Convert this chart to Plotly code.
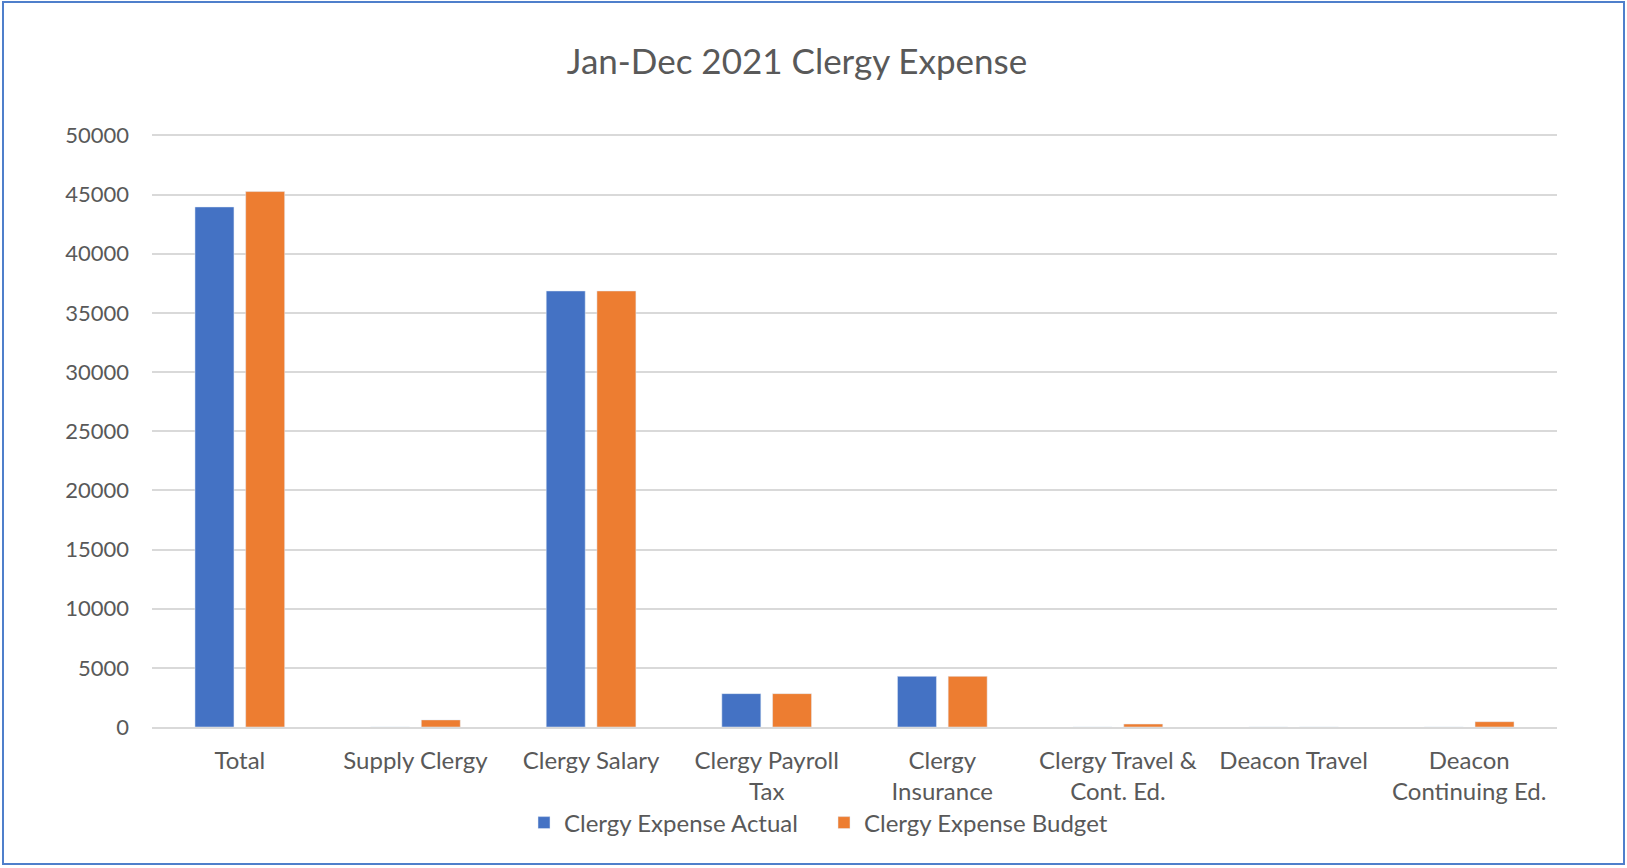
import plotly.graph_objects as go

# Expense categories and their axis labels (wrapped like the category axis)
categories = ["Total", "Supply Clergy", "Clergy Salary", "Clergy Payroll Tax",
              "Clergy Insurance", "Clergy Travel & Cont. Ed.", "Deacon Travel",
              "Deacon Continuing Ed."]
tick_labels = ["Total", "Supply Clergy", "Clergy Salary", "Clergy Payroll<br>Tax",
               "Clergy<br>Insurance", "Clergy Travel &<br>Cont. Ed.", "Deacon Travel",
               "Deacon<br>Continuing Ed."]

actual = [43950, 0, 36850, 2820, 4280, 0, 0, 0]
budget = [45250, 600, 36850, 2820, 4280, 250, 0, 450]

y_ticks = [0, 5000, 10000, 15000, 20000, 25000, 30000, 35000, 40000, 45000, 50000]
y_max = 50200  # a little headroom so the 50000 gridline is drawn

W, H = 1627, 868
L, R, T, B = 152, 70, 133, 141
pw, ph = W - L - R, H - T - B

def px_x(p):
    return (p - L) / pw

def px_y(p):
    return (H - B - p) / ph

FONT = "Lato"
GREY = "#595959"

fig = go.Figure()
fig.add_trace(go.Bar(x=categories, y=actual, name="Clergy Expense Actual",
                     marker_color="#4472C4"))
fig.add_trace(go.Bar(x=categories, y=budget, name="Clergy Expense Budget",
                     marker_color="#ED7D31"))

fig.update_layout(
    width=W, height=H,
    margin=dict(l=L, r=R, t=T, b=B, autoexpand=False),
    paper_bgcolor="white", plot_bgcolor="white",
    barmode="group", bargap=0.4226, bargroupgap=0.231,
    font=dict(family=FONT, color=GREY, size=24),
    title=dict(text="Jan-Dec 2021 Clergy Expense", x=797 / W, xanchor="center",
               y=1 - 62 / H, yanchor="middle", xref="container", yref="container",
               font=dict(family=FONT, size=35, color=GREY)),
    legend=dict(orientation="h", x=px_x(524), xanchor="left",
                y=px_y(823), yanchor="middle", font=dict(size=24, color=GREY),
                itemwidth=30, entrywidth=255, entrywidthmode="pixels",
                traceorder="normal", bgcolor="rgba(0,0,0,0)"),
    showlegend=True,
)

fig.update_xaxes(
    tickmode="array", tickvals=categories, ticktext=tick_labels,
    showgrid=False, showline=True, linecolor="#D9D9D9", linewidth=2,
    ticks="", ticklabelstandoff=11, tickfont=dict(size=24, color=GREY),
)
fig.update_yaxes(
    range=[0, y_max], tickvals=y_ticks, tickformat="d", showgrid=True,
    gridcolor="#D9D9D9", gridwidth=2, zeroline=False, showline=False, ticks="",
    ticklabelstandoff=22, tickfont=dict(size=22, color=GREY),
)

# Frame around the whole chart
fig.add_shape(type="rect", xref="paper", yref="paper",
              x0=px_x(3), x1=px_x(1624), y0=px_y(864), y1=px_y(2),
              line=dict(color="#4F7FCB", width=2), fillcolor="rgba(0,0,0,0)",
              layer="above")

fig.write_html("out.html")
